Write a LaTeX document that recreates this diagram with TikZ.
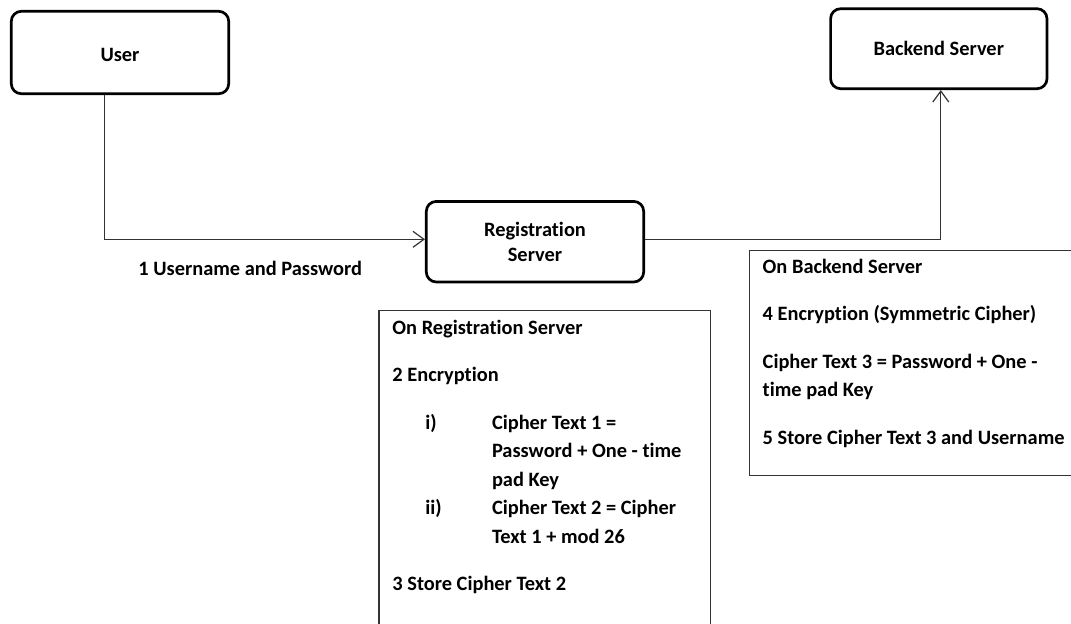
\documentclass[tikz,border=0pt]{standalone}
\usepackage{fontspec}
\setmainfont{Carlito}[Ligatures=CommonOff]
\usetikzlibrary{arrows.meta,positioning}

\begin{document}
\begin{tikzpicture}[
    x=0.5pt, y=-0.5pt,
    server_node/.style={rectangle, draw, line width=1.35pt, rounded corners=5pt, align=center, font=\fontsize{10.2}{12.5}\selectfont\bfseries},
    note_frame/.style={rectangle, draw=black!80, line width=0.6pt, anchor=north west, inner sep=0pt},
    note_text/.style={anchor=base west, inner sep=0pt, align=left, font=\fontsize{10.2}{14.25}\selectfont\bfseries},
    flow_line/.style={draw=black!80, line width=0.6pt, -{Straight Barb[length=5.5pt,width=8pt]}}
]
\useasboundingbox (0,0) rectangle (1071,623);
\clip (0,0) rectangle (1071,623);

% the three parties
\node[server_node, minimum width=108.7pt, minimum height=41.2pt, text height=9.5pt] (user) at (120,52.5) {User};
\node[server_node, minimum width=108.7pt, minimum height=40.3pt] (reg) at (535,241.7) {Registration\\Server};
\node[server_node, minimum width=108.2pt, minimum height=40pt] (backend) at (938.8,48.7) {Backend Server};

% message flow
\draw[flow_line] ([xshift=-7.65pt]user.south) |- ([yshift=1.2pt]reg.west);
\draw[flow_line] ([yshift=1.2pt]reg.east) -| ([xshift=1pt]backend.south);
\node[note_text] (step_one) at (138,275) {1 Username and Password};

% what happens on the registration server (base is the last line)
\node[note_frame, minimum width=165.9pt, minimum height=170pt] (reg_note) at (378.3,310) {};
\node[note_text] (reg_steps) at ([shift={(13.7,280.7)}]reg_note.north west) {%
    On Registration Server\\[9.5pt]
    2 Encryption\\[9.5pt]
    \hspace*{16.5pt}\makebox[33.3pt][l]{i)}Cipher Text 1 =\\
    \hspace*{49.8pt}Password + One - time\\
    \hspace*{49.8pt}pad Key\\
    \hspace*{16.5pt}\makebox[33.3pt][l]{ii)}Cipher Text 2 = Cipher\\
    \hspace*{49.8pt}Text 1 + mod 26\\[9.5pt]
    3 Store Cipher Text 2};

% what happens on the backend server
\node[note_frame, minimum width=180pt, minimum height=112.5pt] (backend_note) at (749,250) {};
\node[note_text] (backend_steps) at ([shift={(13.3,194)}]backend_note.north west) {%
    On Backend Server\\[9.5pt]
    4 Encryption (Symmetric Cipher)\\[9.5pt]
    Cipher Text 3 = Password + One -\\
    time pad Key\\[9.5pt]
    5 Store Cipher Text 3 and Username};
\end{tikzpicture}
\end{document}
